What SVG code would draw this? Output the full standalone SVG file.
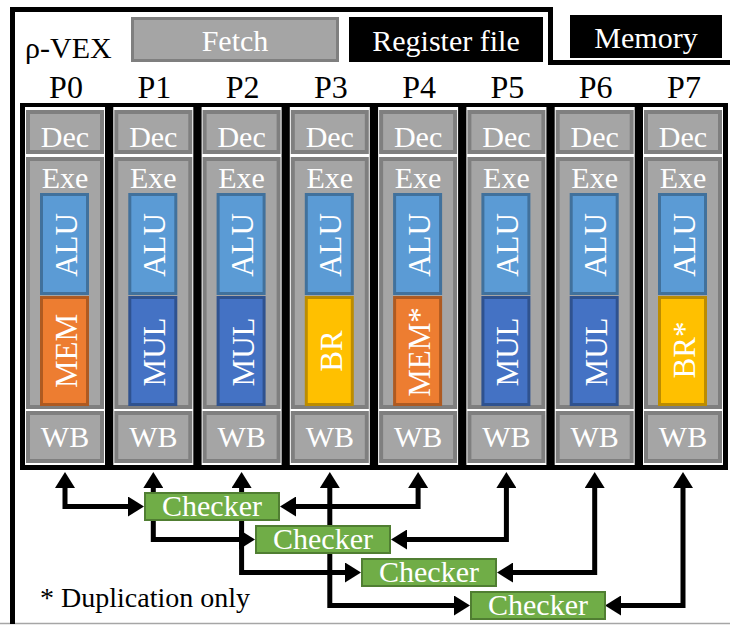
<svg xmlns="http://www.w3.org/2000/svg" width="730" height="626" viewBox="0 0 730 626">
  <style>
    text { font-family: "Liberation Serif", "Times New Roman", Times, Tinos, "Noto Serif", FreeSerif, "DejaVu Serif", serif; }
    .lbl { font-size: 30px; fill: #ffffff; text-anchor: middle; }
    .blk { font-size: 30px; fill: #000000; }
    .plbl { font-size: 32px; fill: #000000; text-anchor: middle; }
    .rot { font-size: 31px; fill: #ffffff; text-anchor: middle; }
    .colbg { fill: #ffffff; }
    .stage { fill: #a5a5a5; stroke: #7f7f7f; stroke-width: 4; }
    .alu { fill: #5b9bd5; stroke: #41719c; stroke-width: 3; }
    .mem { fill: #ed7d31; stroke: #ae5a21; stroke-width: 3; }
    .mul { fill: #4472c4; stroke: #2f528f; stroke-width: 3; }
    .br  { fill: #ffc000; stroke: #bc8c00; stroke-width: 3; }
    .chk { fill: #70ad47; stroke: #507e32; stroke-width: 2; }
    .wire { fill: none; stroke: #000000; stroke-width: 5; stroke-linejoin: miter; marker-start: url(#ah); marker-end: url(#ah); }
  </style>
  <defs>
    <marker id="ah" viewBox="0 0 16 20" markerWidth="16" markerHeight="20" refX="1" refY="10" orient="auto-start-reverse" markerUnits="userSpaceOnUse">
      <path d="M0,0 L16,10 L0,20 Z" fill="#000000"/>
    </marker>
  </defs>

  <!-- page background -->
  <rect x="0" y="0" width="730" height="626" fill="#ffffff"/>
  <line x1="0" y1="623.5" x2="730" y2="623.5" stroke="#a6a6a6" stroke-width="1.5"/>

  <!-- outer core boundary -->
  <path d="M12.5,624 V9.5 H550.5 V62.5 H730" fill="none" stroke="#000000" stroke-width="5"/>

  <text class="blk" x="25" y="58">ρ-VEX</text>

  <g id="fetch">
    <rect x="132.5" y="18.5" width="205" height="42" fill="#a5a5a5" stroke="#7f7f7f" stroke-width="3"/>
    <text class="lbl" x="235" y="51">Fetch</text>
  </g>
  <g id="regfile">
    <rect x="349" y="17" width="194" height="45" fill="#000000"/>
    <text class="lbl" x="446" y="51">Register file</text>
  </g>
  <g id="memory">
    <rect x="570" y="15" width="152" height="43" fill="#000000"/>
    <text class="lbl" x="646" y="48">Memory</text>
  </g>

  <!-- lane labels -->
  <g id="lane-labels">
    <text class="plbl" x="66" y="98">P0</text>
    <text class="plbl" x="154.3" y="98">P1</text>
    <text class="plbl" x="242.6" y="98">P2</text>
    <text class="plbl" x="330.8" y="98">P3</text>
    <text class="plbl" x="419.1" y="98">P4</text>
    <text class="plbl" x="507.4" y="98">P5</text>
    <text class="plbl" x="595.7" y="98">P6</text>
    <text class="plbl" x="684" y="98">P7</text>
  </g>

  <!-- lane panel -->
  <rect x="20" y="103" width="708" height="367" fill="#000000"/>

  <!-- each lane: Dec / Exe (ALU + unit) / WB -->
  <g id="p0" transform="translate(25,0)">
    <rect class="colbg" x="0" y="107" width="80" height="358"/>
    <rect class="stage" x="3" y="112" width="74" height="40"/>
    <rect class="stage" x="3" y="159" width="74" height="248"/>
    <rect class="stage" x="3" y="413" width="74" height="48"/>
    <text class="lbl" x="40" y="147">Dec</text>
    <text class="lbl" x="40" y="188">Exe</text>
    <text class="lbl" x="40" y="447">WB</text>
    <rect class="alu" x="16.5" y="194.5" width="46" height="99"/>
    <text class="rot" transform="translate(51.5,245) rotate(-90)">ALU</text>
    <rect class="mem" x="16.5" y="297.5" width="46" height="107"/>
    <text class="rot" transform="translate(52,351) rotate(-90)">MEM</text>
  </g>
  <g id="p1" transform="translate(113.3,0)">
    <rect class="colbg" x="0" y="107" width="80" height="358"/>
    <rect class="stage" x="3" y="112" width="74" height="40"/>
    <rect class="stage" x="3" y="159" width="74" height="248"/>
    <rect class="stage" x="3" y="413" width="74" height="48"/>
    <text class="lbl" x="40" y="147">Dec</text>
    <text class="lbl" x="40" y="188">Exe</text>
    <text class="lbl" x="40" y="447">WB</text>
    <rect class="alu" x="16.5" y="194.5" width="46" height="99"/>
    <text class="rot" transform="translate(51.5,245) rotate(-90)">ALU</text>
    <rect class="mul" x="16.5" y="297.5" width="46" height="107"/>
    <text class="rot" transform="translate(52,352) rotate(-90)">MUL</text>
  </g>
  <g id="p2" transform="translate(201.6,0)">
    <rect class="colbg" x="0" y="107" width="80" height="358"/>
    <rect class="stage" x="3" y="112" width="74" height="40"/>
    <rect class="stage" x="3" y="159" width="74" height="248"/>
    <rect class="stage" x="3" y="413" width="74" height="48"/>
    <text class="lbl" x="40" y="147">Dec</text>
    <text class="lbl" x="40" y="188">Exe</text>
    <text class="lbl" x="40" y="447">WB</text>
    <rect class="alu" x="16.5" y="194.5" width="46" height="99"/>
    <text class="rot" transform="translate(51.5,245) rotate(-90)">ALU</text>
    <rect class="mul" x="16.5" y="297.5" width="46" height="107"/>
    <text class="rot" transform="translate(52,352) rotate(-90)">MUL</text>
  </g>
  <g id="p3" transform="translate(289.8,0)">
    <rect class="colbg" x="0" y="107" width="80" height="358"/>
    <rect class="stage" x="3" y="112" width="74" height="40"/>
    <rect class="stage" x="3" y="159" width="74" height="248"/>
    <rect class="stage" x="3" y="413" width="74" height="48"/>
    <text class="lbl" x="40" y="147">Dec</text>
    <text class="lbl" x="40" y="188">Exe</text>
    <text class="lbl" x="40" y="447">WB</text>
    <rect class="alu" x="16.5" y="194.5" width="46" height="99"/>
    <text class="rot" transform="translate(51.5,245) rotate(-90)">ALU</text>
    <rect class="br" x="16.5" y="297.5" width="46" height="107"/>
    <text class="rot" transform="translate(52,351) rotate(-90)">BR</text>
  </g>
  <g id="p4" transform="translate(378.1,0)">
    <rect class="colbg" x="0" y="107" width="80" height="358"/>
    <rect class="stage" x="3" y="112" width="74" height="40"/>
    <rect class="stage" x="3" y="159" width="74" height="248"/>
    <rect class="stage" x="3" y="413" width="74" height="48"/>
    <text class="lbl" x="40" y="147">Dec</text>
    <text class="lbl" x="40" y="188">Exe</text>
    <text class="lbl" x="40" y="447">WB</text>
    <rect class="alu" x="16.5" y="194.5" width="46" height="99"/>
    <text class="rot" transform="translate(51.5,245) rotate(-90)">ALU</text>
    <rect class="mem" x="16.5" y="297.5" width="46" height="107"/>
    <text class="rot" transform="translate(52,352) rotate(-90)">MEM*</text>
  </g>
  <g id="p5" transform="translate(466.4,0)">
    <rect class="colbg" x="0" y="107" width="80" height="358"/>
    <rect class="stage" x="3" y="112" width="74" height="40"/>
    <rect class="stage" x="3" y="159" width="74" height="248"/>
    <rect class="stage" x="3" y="413" width="74" height="48"/>
    <text class="lbl" x="40" y="147">Dec</text>
    <text class="lbl" x="40" y="188">Exe</text>
    <text class="lbl" x="40" y="447">WB</text>
    <rect class="alu" x="16.5" y="194.5" width="46" height="99"/>
    <text class="rot" transform="translate(51.5,245) rotate(-90)">ALU</text>
    <rect class="mul" x="16.5" y="297.5" width="46" height="107"/>
    <text class="rot" transform="translate(52,352) rotate(-90)">MUL</text>
  </g>
  <g id="p6" transform="translate(554.7,0)">
    <rect class="colbg" x="0" y="107" width="80" height="358"/>
    <rect class="stage" x="3" y="112" width="74" height="40"/>
    <rect class="stage" x="3" y="159" width="74" height="248"/>
    <rect class="stage" x="3" y="413" width="74" height="48"/>
    <text class="lbl" x="40" y="147">Dec</text>
    <text class="lbl" x="40" y="188">Exe</text>
    <text class="lbl" x="40" y="447">WB</text>
    <rect class="alu" x="16.5" y="194.5" width="46" height="99"/>
    <text class="rot" transform="translate(51.5,245) rotate(-90)">ALU</text>
    <rect class="mul" x="16.5" y="297.5" width="46" height="107"/>
    <text class="rot" transform="translate(52,352) rotate(-90)">MUL</text>
  </g>
  <g id="p7" transform="translate(643,0)">
    <rect class="colbg" x="0" y="107" width="80" height="358"/>
    <rect class="stage" x="3" y="112" width="74" height="40"/>
    <rect class="stage" x="3" y="159" width="74" height="248"/>
    <rect class="stage" x="3" y="413" width="74" height="48"/>
    <text class="lbl" x="40" y="147">Dec</text>
    <text class="lbl" x="40" y="188">Exe</text>
    <text class="lbl" x="40" y="447">WB</text>
    <rect class="alu" x="16.5" y="194.5" width="46" height="99"/>
    <text class="rot" transform="translate(51.5,245) rotate(-90)">ALU</text>
    <rect class="br" x="16.5" y="297.5" width="46" height="107"/>
    <text class="rot" transform="translate(52,350) rotate(-90)">BR*</text>
  </g>

  <!-- writeback to checker links -->
  <g id="connectors">
    <path class="wire" d="M65,487 V506.5 H129"/>
    <path class="wire" d="M153.3,487 V539.5 H240"/>
    <path class="wire" d="M241.6,487 V572.5 H346"/>
    <path class="wire" d="M329.8,487 V605.5 H455"/>
    <path class="wire" d="M418.1,487 V506.5 H295"/>
    <path class="wire" d="M506.4,487 V539.5 H406"/>
    <path class="wire" d="M594.7,487 V572.5 H512"/>
    <path class="wire" d="M683,487 V605.5 H620"/>
  </g>

  <g id="checker0">
    <rect class="chk" x="145" y="493" width="134" height="27"/>
    <text class="lbl" x="212" y="516">Checker</text>
  </g>
  <g id="checker1">
    <rect class="chk" x="256" y="526" width="134" height="27"/>
    <text class="lbl" x="323" y="549">Checker</text>
  </g>
  <g id="checker2">
    <rect class="chk" x="362" y="559" width="134" height="27"/>
    <text class="lbl" x="429" y="582">Checker</text>
  </g>
  <g id="checker3">
    <rect class="chk" x="471" y="592" width="134" height="27"/>
    <text class="lbl" x="538" y="615">Checker</text>
  </g>

  <text id="footnote" class="blk" x="40" y="607" font-size="28" style="font-size:28px">* Duplication only</text>
</svg>
